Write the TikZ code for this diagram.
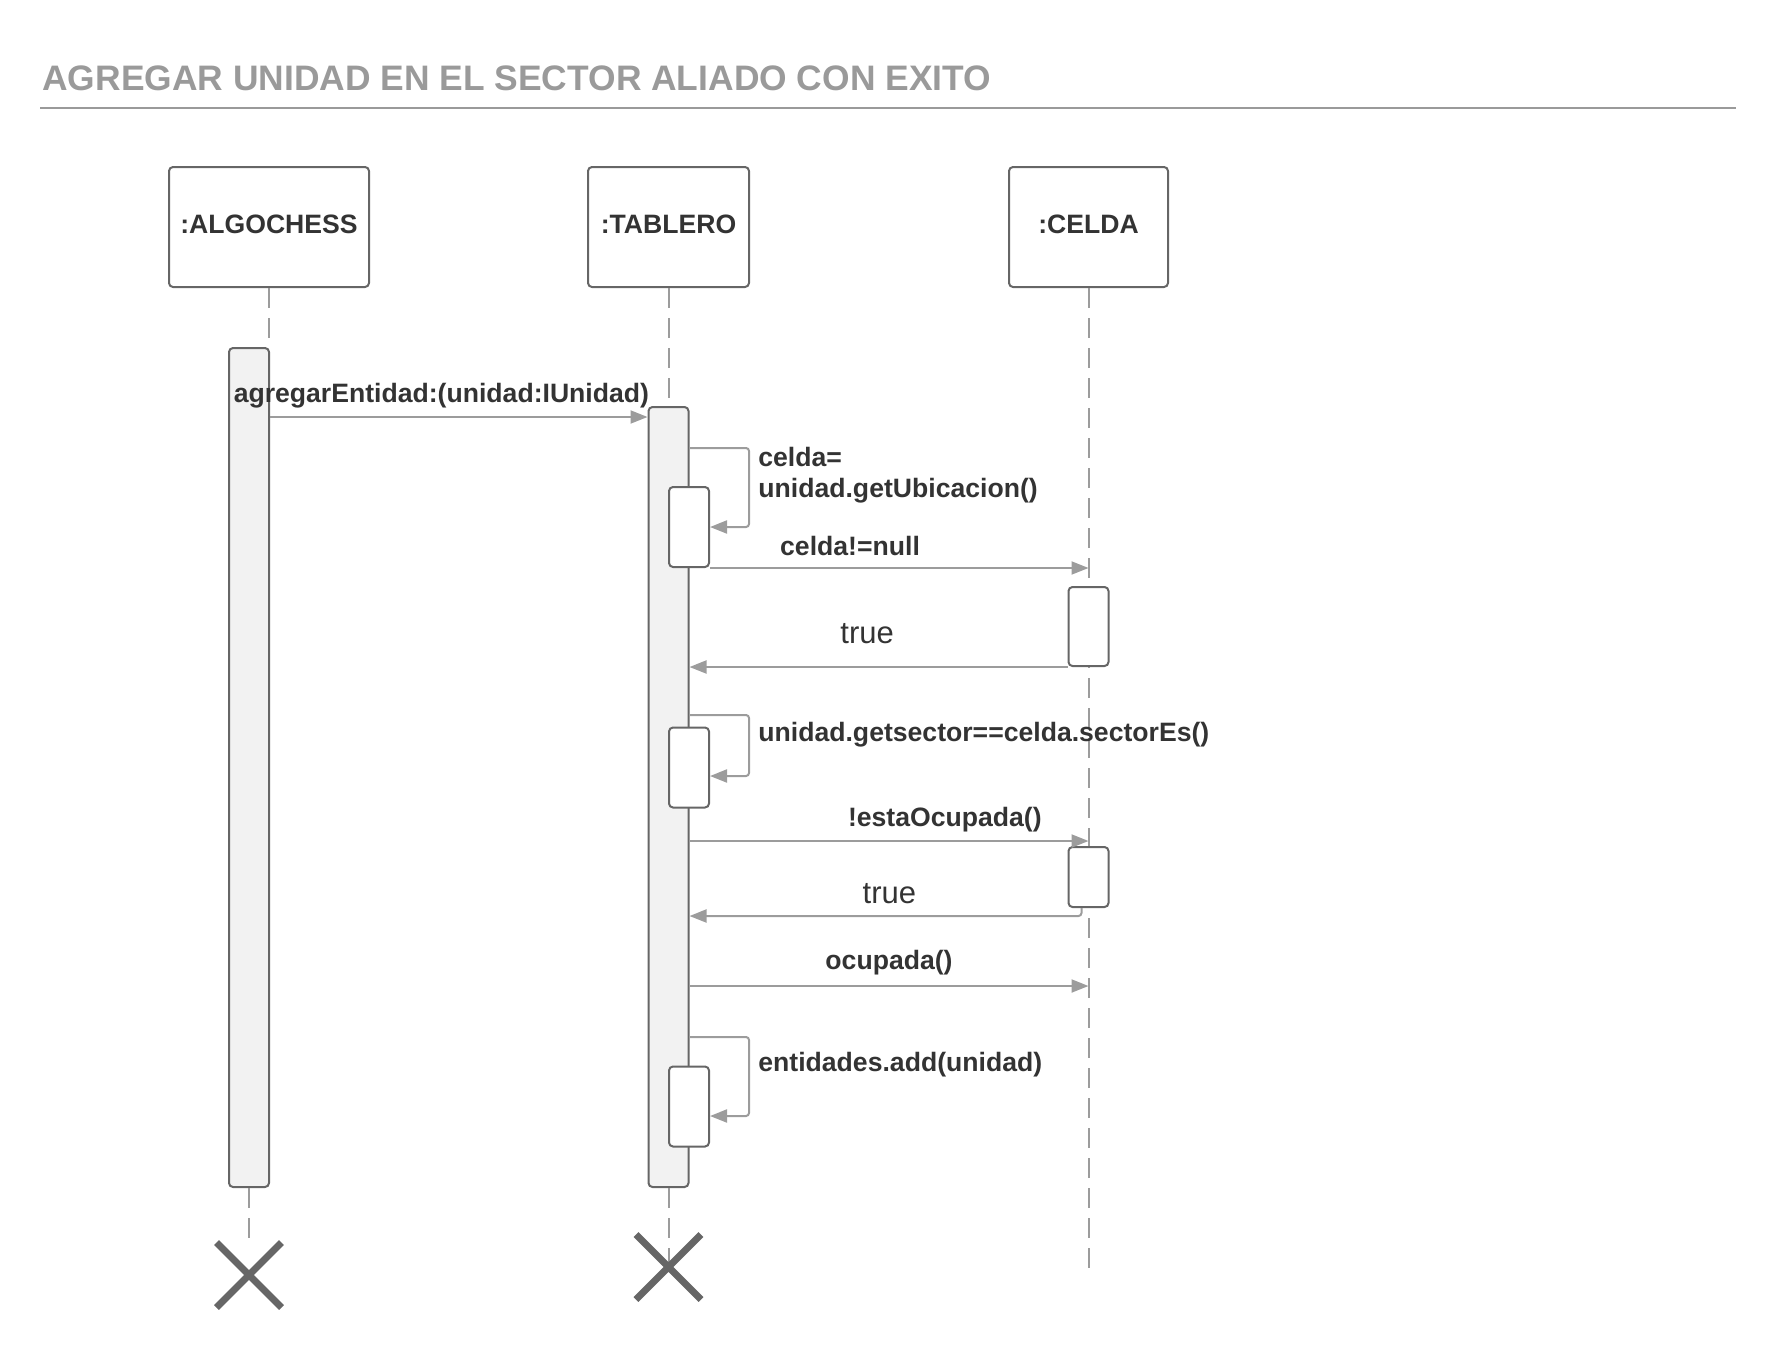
\documentclass[tikz,border=0pt]{standalone}
\usepackage{fontspec}
\setmainfont{Liberation Sans}
\usepackage{tikz}
\usetikzlibrary{calc}
\usetikzlibrary{shapes.misc}
\usetikzlibrary{arrows.meta}
\usepackage{xcolor}

\definecolor{titlegray}{HTML}{9A9A9A}
\definecolor{boxgray}{HTML}{666666}
\definecolor{linegray}{HTML}{9C9C9C}
\definecolor{txtgray}{HTML}{333333}
\definecolor{barfill}{HTML}{F2F2F2}

\begin{document}
\begin{tikzpicture}[x=0.5pt, y=-0.5pt,
	head/.style={rectangle, draw=boxgray, line width=1pt, rounded corners=2pt, minimum height=60pt, text depth=2.5pt, font=\fontsize{13.3}{16}\bfseries, text=txtgray},
	bar/.style={rectangle, draw=boxgray, fill=barfill, line width=1pt, rounded corners=2pt, minimum width=20pt, inner sep=0},
	sub/.style={bar, fill=white},
	life/.style={draw=linegray, line width=1pt, dash pattern=on 10pt off 5pt},
	msg/.style={draw=linegray, line width=1pt, -{Triangle[length=8.5pt, width=6.5pt]}},
	self/.style={msg, rounded corners=1.5pt},
	lbl/.style={font=\fontsize{13.3}{15.5}\bfseries, text=txtgray, inner sep=0},
	ret/.style={font=\fontsize{15.5}{18}\selectfont, text=txtgray, inner sep=0},
	kill/.style={cross out, draw=boxgray, line width=3.5pt, minimum size=29pt, inner sep=0},
	]
	\useasboundingbox (0,0) rectangle (1777,1355);
	
	%Title
	\node[font=\fontsize{17.7}{20}\bfseries, text=titlegray, anchor=base west, inner sep=0] (title) at (42,90) {AGREGAR UNIDAD EN EL SECTOR ALIADO CON EXITO};
	\draw[titlegray, line width=1pt] (40,108) -- (1736,108);
	
	%Heads
	\node[head, minimum width=100pt]  (alg) at (269,227)    {:ALGOCHESS};
	\node[head, minimum width=80.5pt] (tab) at (668.5,227)  {:TABLERO};
	\node[head, minimum width=79.5pt] (cel) at (1088.5,227) {:CELDA};
	
	%Activation bars
	\node[bar, minimum height=419.5pt] (algbar) at (249,767.5)   {};
	\node[bar, minimum height=390pt]   (tabbar) at (668.5,797)   {};
	
	%Lifelines
	\coordinate (algend) at (249,1238);
	\coordinate (tabend) at (668.5,1262);
	\coordinate (celend) at (1088.5,1272);
	\draw[life] (alg.south) -- (alg.south |- algbar.north);
	\draw[life] (tab.south) -- (tabbar.north);
	\draw[life] (cel.south) -- (celend);
	\draw[life] (algbar.south) -- (algend);
	\draw[life] (tabbar.south) -- (tabend);
	
	%Nested bars
	\node[sub, minimum height=40pt]   (sb1) at (689,527)     {};
	\node[sub, minimum height=40pt]   (sb2) at (689,767.5)   {};
	\node[sub, minimum height=40pt]   (sb3) at (689,1106.5)  {};
	\node[sub, minimum height=39.5pt] (cb1) at (1088.5,626.5) {};
	\node[sub, minimum height=30pt]   (cb2) at (1088.5,877)  {};
	
	%Messages
	\draw[msg] (algbar.east |- 0,417) to node[lbl, pos=0.454, above=4pt] {agregarEntidad:(unidad:IUnidad)} (tabbar.west |- 0,417);
	\draw[self] (tabbar.east |- 0,448) -| (749,527) -- (sb1.east |- 0,527);
	\node[lbl, anchor=west, align=left] (l1) at (758,475) {celda=\\unidad.getUbicacion()};
	\draw[msg] (sb1.south east) to node[lbl, pos=0.37, above=5.5pt] {celda!=null} (cel.south |- sb1.south east);
	\draw[msg] (cb1.south west) to node[ret, pos=0.53, above=11pt] {true} (tabbar.east |- cb1.south west);
	\draw[self] (tabbar.east |- 0,715) -| (749,776) -- (sb2.east |- 0,776);
	\node[lbl, anchor=west] (l2) at (758,735) {unidad.getsector==celda.sectorEs()};
	\draw[msg] (tabbar.east |- 0,841) to node[lbl, pos=0.64, above=4pt] {!estaOcupada()} (cel.south |- 0,841);
	\draw[msg, rounded corners=1.5pt] ($(cb2.south)+(-7,0)$) |- node[ret, pos=0.745, above=5.5pt] {true} (tabbar.east |- 0,916);
	\draw[msg] (tabbar.east |- 0,986) to node[lbl, pos=0.5, above=5pt] {ocupada()} (cel.south |- 0,986);
	\draw[self] (tabbar.east |- 0,1037) -| (749,1116) -- (sb3.east |- 0,1116);
	\node[lbl, anchor=west] (l3) at (758,1065) {entidades.add(unidad)};
	
	%Destruction
	\node[kill] (algx) at (249,1275)   {};
	\node[kill] (tabx) at (668.5,1267) {};
\end{tikzpicture}
\end{document}
